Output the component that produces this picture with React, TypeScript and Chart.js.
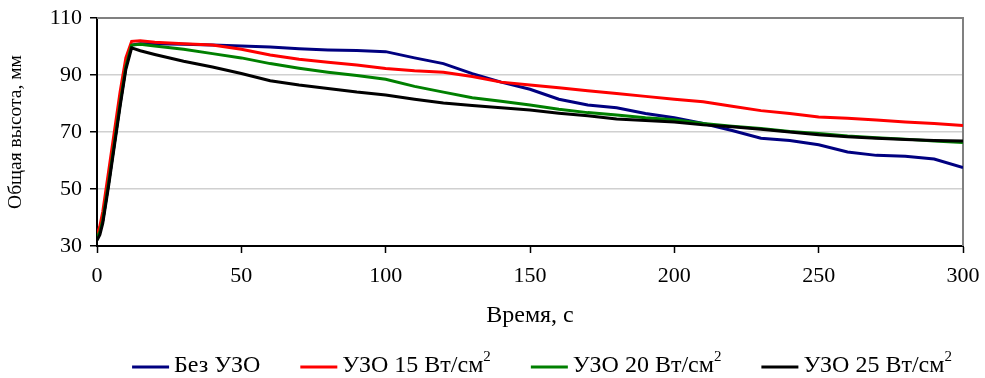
import { useEffect, useRef } from "react";
import { Chart, registerables } from "chart.js";

Chart.register(...registerables);

const timeS = [0, 1, 2, 4, 6, 8, 10, 12, 15, 20, 30, 40, 50, 60, 70, 80, 90, 100, 110, 120, 130, 140, 150, 160, 170, 180, 190, 200, 210, 220, 230, 240, 250, 260, 270, 280, 290, 300];

const seriesNames = ["Без УЗО", "УЗО 15 Вт/см²", "УЗО 20 Вт/см²", "УЗО 25 Вт/см²"];
const seriesColors = ["#000080", "#FF0000", "#008000", "#000000"];

const noUzo = [33, 35, 39, 52, 66, 80, 93, 100.5, 101, 101, 100.8, 100.5, 100.2, 99.8, 99.2, 98.8, 98.6, 98.2, 96, 94, 90.5, 87.5, 85, 81.5, 79.5, 78.5, 76.5, 75, 73, 70.5, 67.8, 67, 65.5, 63, 61.8, 61.5, 60.5, 57.5];
const uzo15 = [34, 37, 42, 56, 70, 84, 96, 101.8, 102, 101.5, 101, 100.5, 99, 97, 95.5, 94.5, 93.5, 92.3, 91.5, 91, 89.5, 87.5, 86.5, 85.5, 84.5, 83.5, 82.5, 81.5, 80.6, 79, 77.5, 76.5, 75.3, 74.8, 74.2, 73.5, 73, 72.3];
const uzo20 = [33, 35, 39, 52, 66, 80, 93, 100.5, 100.8, 100.2, 99, 97.5, 96, 94, 92.4, 91, 89.8, 88.5, 86, 84, 82, 80.8, 79.5, 78, 76.8, 76, 75, 74.3, 73, 72, 71.2, 70.2, 69.5, 68.6, 68, 67.5, 66.8, 66.3];
const uzo25 = [32, 34, 38, 51, 65, 79, 92, 99.5, 98.5, 97.2, 94.8, 92.8, 90.5, 88, 86.5, 85.3, 84, 83, 81.5, 80.2, 79.3, 78.5, 77.7, 76.6, 75.7, 74.6, 74, 73.5, 72.5, 71.8, 71, 70, 69, 68.3, 67.8, 67.4, 67, 66.8];

const seriesValues = [noUzo, uzo15, uzo20, uzo25];

const xTicks = [0, 50, 100, 150, 200, 250, 300];
const yTicks = [30, 50, 70, 90, 110];
const xTitle = "Время, с";
const yTitle = "Общая высота, мм";

const FONT = "'Liberation Serif', 'Times New Roman', serif";
const TICK_FS = 22;
const XTITLE_FS = 24;
const YTITLE_FS = 19.5;
const LEGEND_FS = 24;

const framePlugin = {
  id: "frame",
  beforeDatasetsDraw(chart: any) {
    const { ctx, chartArea: a } = chart;
    ctx.save();
    ctx.strokeStyle = "#808080";
    ctx.lineWidth = 2;
    ctx.beginPath();
    ctx.moveTo(a.left, a.top);
    ctx.lineTo(a.right, a.top);
    ctx.lineTo(a.right, a.bottom);
    ctx.stroke();
    ctx.restore();
  },
};

const legendPlugin = {
  id: "customLegend",
  afterDraw(chart: any) {
    const { ctx } = chart;
    const sampleW = 37;
    const gap = 5;
    const spacing = 40;
    const centerX = 542;
    const y = 366;
    ctx.save();
    const mainFont = `${LEGEND_FS}px ${FONT}`;
    const supFont = `${Math.round(LEGEND_FS * 0.62)}px ${FONT}`;
    const items = chart.data.datasets.map((ds: any) => {
      const label: string = ds.label;
      const hasSup = label.endsWith("²");
      const base = hasSup ? label.slice(0, -1) : label;
      ctx.font = mainFont;
      const wb = ctx.measureText(base).width;
      ctx.font = supFont;
      const ws = hasSup ? ctx.measureText("2").width : 0;
      return { base, hasSup, wb, ws, color: ds.borderColor, w: sampleW + gap + wb + ws };
    });
    const total = items.reduce((s: number, it: any) => s + it.w, 0) + spacing * (items.length - 1);
    let x = centerX - total / 2;
    ctx.textBaseline = "middle";
    ctx.textAlign = "left";
    for (const it of items) {
      ctx.strokeStyle = it.color;
      ctx.lineWidth = 3;
      ctx.beginPath();
      ctx.moveTo(x, y + 1);
      ctx.lineTo(x + sampleW, y + 1);
      ctx.stroke();
      ctx.fillStyle = "#000";
      ctx.font = mainFont;
      ctx.fillText(it.base, x + sampleW + gap, y);
      if (it.hasSup) {
        ctx.font = supFont;
        ctx.fillText("2", x + sampleW + gap + it.wb, y - LEGEND_FS * 0.36);
      }
      x += it.w + spacing;
    }
    ctx.restore();
  },
};

export default function App() {
  const ref = useRef<HTMLCanvasElement | null>(null);
  useEffect(() => {
    if (!ref.current) return;
    const chart = new Chart(ref.current, {
      type: "line",
      data: {
        datasets: seriesValues.map((vals, i) => ({
          label: seriesNames[i],
          data: timeS.map((t, j) => ({ x: t, y: vals[j] })),
          borderColor: seriesColors[i],
          backgroundColor: seriesColors[i],
          borderWidth: 3,
          pointRadius: 0,
          tension: 0,
          fill: false,
          order: seriesValues.length - i,
        })),
      },
      options: {
        animation: false,
        responsive: false,
        layout: { padding: { left: 0, right: 22, top: 18, bottom: 0 } },
        plugins: { legend: { display: false }, tooltip: { enabled: false } },
        scales: {
          x: {
            type: "linear",
            min: 0,
            max: 300,
            afterBuildTicks: (s: any) => {
              s.ticks = xTicks.map((v) => ({ value: v }));
            },
            afterFit: (s: any) => {
              s.height = 132;
              s.paddingLeft = 0;
              s.paddingRight = 0;
            },
            grid: { drawOnChartArea: false, drawTicks: true, tickLength: 7, tickColor: "#000", tickWidth: 1.5 },
            border: { display: true, color: "#000", width: 2 },
            ticks: { color: "#000", font: { family: FONT, size: TICK_FS }, padding: 10, maxRotation: 0, autoSkip: false },
            title: { display: true, text: xTitle, color: "#000", font: { family: FONT, size: XTITLE_FS }, padding: { top: 0, bottom: 48 } },
          },
          y: {
            type: "linear",
            min: 30,
            max: 110,
            afterBuildTicks: (s: any) => {
              s.ticks = yTicks.map((v) => ({ value: v }));
            },
            afterFit: (s: any) => {
              s.width = 97;
              s.paddingTop = 0;
              s.paddingBottom = 0;
            },
            grid: { color: "#d0d0d0", lineWidth: 1.5, drawTicks: true, tickLength: 7, tickColor: "#000", tickWidth: 1.5 },
            border: { display: true, color: "#000", width: 2 },
            ticks: { color: "#000", font: { family: FONT, size: TICK_FS }, padding: 8 },
            title: { display: true, text: yTitle, color: "#000", font: { family: FONT, size: YTITLE_FS }, padding: { top: 4, bottom: 0 } },
          },
        },
      },
      plugins: [framePlugin, legendPlugin],
    });
    return () => chart.destroy();
  }, []);
  return (
    <div style={{ position: "fixed", left: 0, top: 0, width: 985, height: 378, background: "#fff" }}>
      <canvas ref={ref} width={985} height={378} />
    </div>
  );
}
